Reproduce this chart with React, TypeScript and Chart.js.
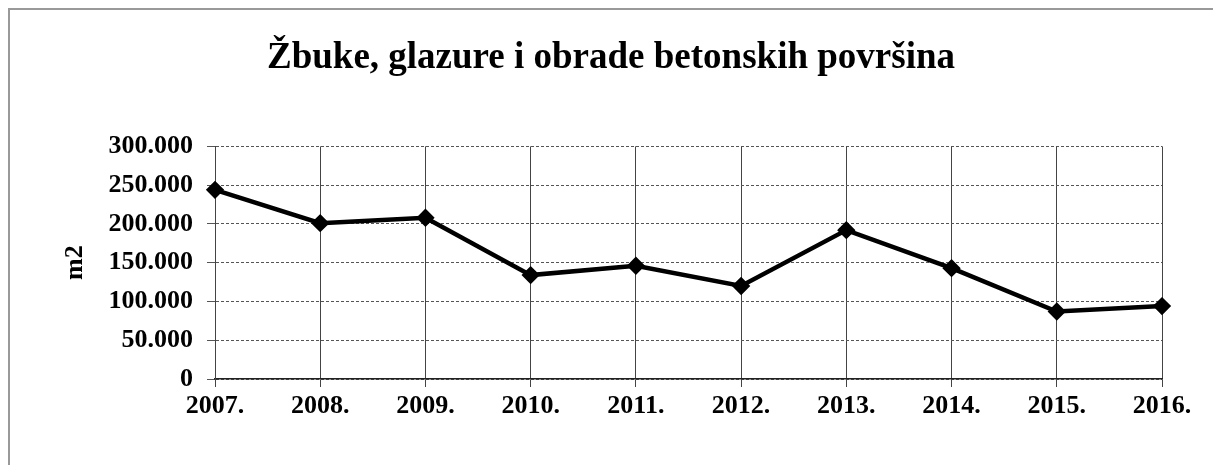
import React, { useEffect, useRef } from "react";
import { Chart, registerables } from "chart.js";

Chart.register(...registerables);

const TITLE = "Žbuke, glazure i obrade betonskih površina";
const Y_TITLE = "m2";
const years = ["2007.", "2008.", "2009.", "2010.", "2011.", "2012.", "2013.", "2014.", "2015.", "2016."];
const values = [244000, 201000, 208000, 134000, 146000, 120000, 192000, 143000, 87000, 94000];
const Y_MIN = 0;
const Y_MAX = 300000;
const Y_STEP = 50000;

const FONT = "'Liberation Serif', 'Times New Roman', serif";

function fmt(v: number): string {
  return Math.round(v)
    .toString()
    .replace(/\B(?=(\d{3})+(?!\d))/g, ".");
}

export default function App() {
  const ref = useRef<HTMLCanvasElement | null>(null);

  useEffect(() => {
    if (!ref.current) return;
    const chart = new Chart(ref.current, {
      type: "line",
      data: {
        labels: years,
        datasets: [
          {
            data: values,
            borderColor: "#000",
            backgroundColor: "#000",
            borderWidth: 4.5,
            pointStyle: "rectRot",
            pointRadius: 6,
            pointBackgroundColor: "#000",
            pointBorderColor: "#000",
            tension: 0,
            fill: false,
          },
        ],
      },
      options: {
        animation: false,
        responsive: false,
        layout: { padding: { left: 50, right: 59, top: 0, bottom: 0 } },
        plugins: {
          legend: { display: false },
          tooltip: { enabled: false },
          title: {
            display: true,
            text: TITLE,
            color: "#000",
            font: { family: FONT, size: 37, weight: "bold" },
            padding: { top: 26, bottom: 66 },
          },
        },
        scales: {
          x: {
            type: "category",
            offset: false,
            grid: {
              color: "#444",
              lineWidth: 1,
              tickLength: 8,
              drawOnChartArea: true,
            },
            border: { color: "#222", width: 1.5 },
            ticks: {
              color: "#000",
              padding: 4,
              maxRotation: 0,
              autoSkip: false,
              font: { family: FONT, size: 26, weight: "bold" },
            },
            afterFit: (s: any) => {
              s.height = 86;
            },
          },
          y: {
            min: Y_MIN,
            max: Y_MAX,
            grid: {
              color: "#555",
              lineWidth: 1,
              tickLength: 8,
              tickBorderDash: [],
            },
            border: { color: "#444", width: 1, dash: [3, 2] },
            ticks: {
              stepSize: Y_STEP,
              color: "#000",
              padding: 14,
              font: { family: FONT, size: 26, weight: "bold" },
              callback: (v: any) => fmt(Number(v)),
            },
            title: {
              display: true,
              text: Y_TITLE,
              color: "#000",
              font: { family: FONT, size: 26, weight: "bold" },
              padding: { top: 0, bottom: 0 },
            },
            afterFit: (s: any) => {
              s.width = 155;
            },
          },
        },
      },
    });
    return () => chart.destroy();
  }, []);

  return (
    <div
      style={{
        width: 1213,
        height: 457,
        borderLeft: "2px solid #999",
        borderTop: "2px solid #999",
        boxSizing: "border-box",
        background: "#fff",
        overflow: "hidden",
      }}
    >
      <canvas ref={ref} width={1211} height={455} style={{ display: "block" }} />
    </div>
  );
}
